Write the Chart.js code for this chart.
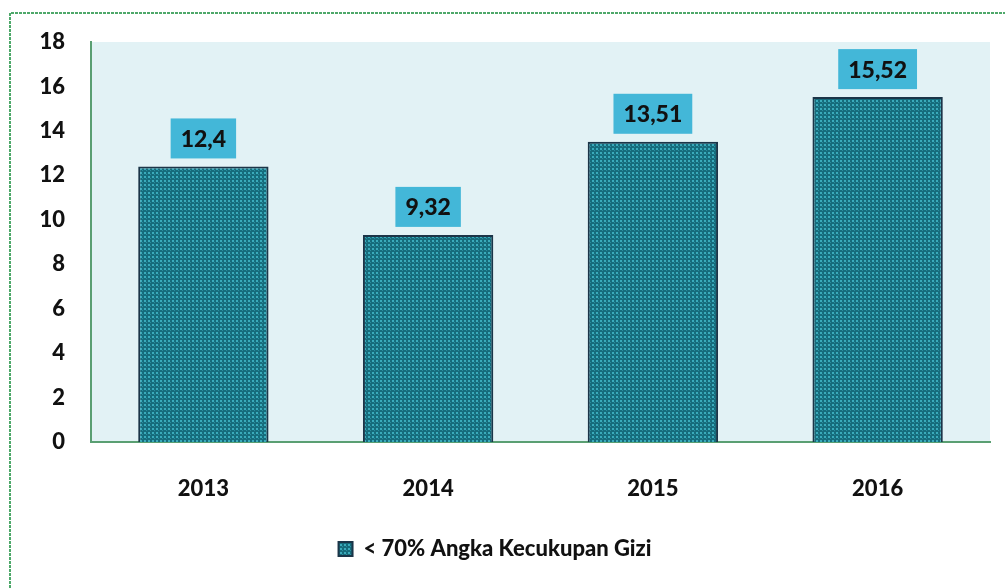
<!DOCTYPE html>
<html>
<head>
<meta charset="utf-8">
<script src="https://cdn.jsdelivr.net/npm/chart.js@4/dist/chart.umd.min.js"></script>
<style>
  html, body { margin: 0; padding: 0; background: #ffffff; }
  #wrap { position: relative; width: 1005px; height: 588px; }
</style>
</head>
<body>
<div id="wrap"><canvas id="c" width="1005" height="588"></canvas></div>
<script>
const categories = ['2013', '2014', '2015', '2016'];
const seriesName = '< 70% Angka Kecukupan Gizi';
const seriesValues = [12.4, 9.32, 13.51, 15.52];
const valueLabels = ['12,4', '9,32', '13,51', '15,52'];
const yTicks = [0, 2, 4, 6, 8, 10, 12, 14, 16, 18];

function makePattern() {
  const p = document.createElement('canvas');
  p.width = 4; p.height = 4;
  const g = p.getContext('2d');
  g.fillStyle = '#166c7c';
  g.fillRect(0, 0, 4, 4);
  g.fillStyle = '#3aabbb';
  g.fillRect(0, 0, 2, 2);
  g.fillStyle = '#2a8e9e';
  g.fillRect(2, 2, 1, 1);
  return document.getElementById('c').getContext('2d').createPattern(p, 'repeat');
}
const barFill = makePattern();

const frame = {
  id: 'frame',
  beforeDraw(chart) {
    const ctx = chart.ctx, a = chart.chartArea;
    ctx.save();
    ctx.fillStyle = '#e2f2f5';
    ctx.fillRect(a.left, a.top, a.right - a.left, a.bottom - a.top);
    ctx.strokeStyle = '#4ea86a';
    ctx.lineWidth = 2;
    ctx.setLineDash([3, 1]);
    ctx.beginPath();
    ctx.moveTo(10, 588);
    ctx.lineTo(10, 13);
    ctx.lineTo(1005, 13);
    ctx.stroke();
    ctx.restore();
  }
};

const valueBoxes = {
  id: 'valueBoxes',
  afterDatasetsDraw(chart) {
    const ctx = chart.ctx;
    const meta = chart.getDatasetMeta(0);
    ctx.save();
    ctx.font = '900 23px Lato';
    ctx.textAlign = 'center';
    ctx.textBaseline = 'middle';
    meta.data.forEach((bar, i) => {
      const txt = valueLabels[i];
      const w = ctx.measureText(txt).width + 20;
      const h = 40;
      const x = bar.x - w / 2;
      const y = bar.y - 8 - h;
      ctx.fillStyle = '#43b7d8';
      ctx.fillRect(x, y, w, h);
      ctx.fillStyle = '#111111';
      ctx.fillText(txt, bar.x, y + h / 2 + 1);
    });
    ctx.restore();
  }
};

new Chart(document.getElementById('c'), {
  type: 'bar',
  data: {
    labels: categories,
    datasets: [{
      label: seriesName,
      data: seriesValues,
      backgroundColor: barFill,
      borderColor: '#1b3548',
      borderWidth: 2,
      borderSkipped: 'bottom',
      categoryPercentage: 1,
      barPercentage: 0.58
    }]
  },
  options: {
    responsive: false,
    animation: false,
    devicePixelRatio: 1,
    layout: { padding: { top: 42, right: 15, bottom: 18, left: 0 } },
    plugins: {
      tooltip: { enabled: false },
      legend: {
        position: 'bottom',
        labels: {
          font: { family: 'Lato', size: 22, weight: '900' },
          color: '#111111',
          boxWidth: 14,
          boxHeight: 14,
          padding: 10
        }
      }
    },
    scales: {
      x: {
        grid: { display: false },
        border: { display: true, color: '#5a9f72', width: 2 },
        ticks: { font: { family: 'Lato', size: 22, weight: '900' }, color: '#111111', padding: 26 },
        afterFit(scale) { scale.height = 86; }
      },
      y: {
        min: 0, max: 18,
        afterBuildTicks(scale) { scale.ticks = yTicks.map(v => ({ value: v })); },
        grid: { display: false },
        border: { display: true, color: '#5a9f72', width: 2 },
        ticks: { font: { family: 'Lato', size: 22, weight: '900' }, color: '#111111', padding: 18 },
        afterFit(scale) { scale.width = 91; }
      }
    }
  },
  plugins: [frame, valueBoxes]
});
</script>
</body>
</html>
